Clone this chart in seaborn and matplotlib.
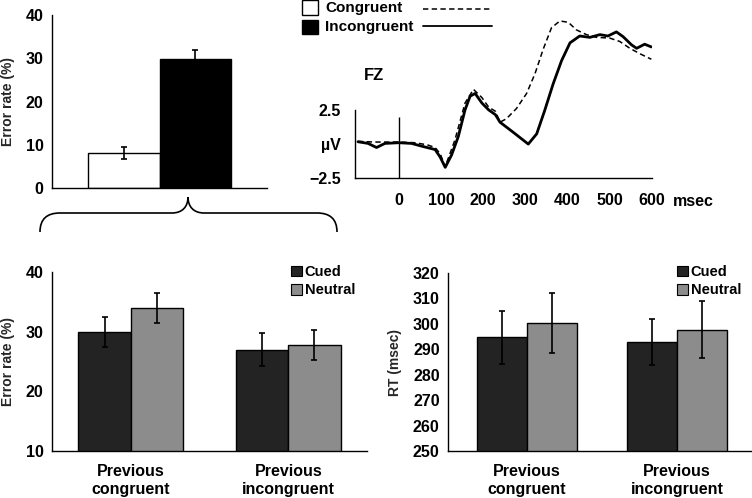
import matplotlib
matplotlib.use("Agg")
import matplotlib.pyplot as plt
import seaborn as sns
import numpy as np
import pandas as pd
from matplotlib.patches import Rectangle, Patch, PathPatch
from matplotlib.lines import Line2D
from matplotlib.path import Path

# ---------------- data ----------------
top_conditions = ["Congruent", "Incongruent"]
top_error_rate = [8.1, 29.8]
top_error_se = [1.3, 2.2]

erp_time_congruent = [-97, -57, 0, 38, 67, 86, 98, 110, 133, 157, 177, 197, 213, 229, 240,
                      255, 279, 303, 323, 342, 362, 382, 402, 421, 445, 469, 500, 524, 548, 572, 599]
erp_volt_congruent = [0.2, 0.15, 0.15, 0.1, -0.05, -0.25, -0.7, -1.65, 0.3, 3.0, 4.0, 3.4, 2.7, 2.4, 1.6,
                      1.85, 2.6, 3.7, 5.15, 6.9, 8.5, 9.0, 8.9, 8.35, 8.0, 7.8, 7.75, 7.5, 7.0, 6.6, 6.2]
erp_time_incongruent = [-97, -73, -53, -33, 0, 30, 54, 86, 98, 110, 125, 141, 157, 169, 181, 197, 213,
                        229, 240, 271, 307, 327, 346, 366, 386, 406, 429, 453, 477, 496, 516, 532,
                        552, 564, 583, 599]
erp_volt_incongruent = [0.17, 0.05, -0.25, 0.05, 0.1, 0.05, -0.15, -0.4, -0.95, -1.7, -0.8, 0.55, 2.5, 3.5,
                        3.7, 3.0, 2.5, 2.15, 1.6, 0.87, 0.0, 0.75, 2.46, 4.4, 6.1, 7.4, 7.9, 7.8, 8.0,
                        7.9, 8.2, 7.85, 7.25, 7.0, 7.3, 7.1]

prev_categories = ["Previous\ncongruent", "Previous\nincongruent"]
cue_levels = ["Cued", "Neutral"]
err_cued = [30.0, 27.0]
err_neutral = [33.9, 27.7]
err_cued_se = [2.5, 2.75]
err_neutral_se = [2.5, 2.5]
rt_cued = [294.7, 292.9]
rt_neutral = [300.4, 297.7]
rt_cued_se = [10.5, 9.2]
rt_neutral_se = [11.8, 11.1]

# ---------------- style ----------------
sns.set_theme(style="white")
plt.rcParams["font.family"] = ["Liberation Sans", "DejaVu Sans"]
plt.rcParams["font.weight"] = "bold"
plt.rcParams["axes.labelweight"] = "bold"
plt.rcParams["axes.edgecolor"] = "black"
plt.rcParams["axes.linewidth"] = 1.0
plt.rcParams["xtick.color"] = "black"
plt.rcParams["ytick.color"] = "black"
plt.rcParams["text.color"] = "black"

W, H = 752, 498
fig = plt.figure(figsize=(W / 100, H / 100), dpi=100)
fig.patch.set_facecolor("white")


def fx(px):
    return px / W


def fy(py):
    return 1 - py / H


def box(x0, y0, x1, y1):
    return [fx(x0), fy(y1), (x1 - x0) / W, (y1 - y0) / H]


CUED = "#232323"
NEUTRAL = "#8c8c8c"
TICK_FS = 11.5

# ---------------- top-left bar chart ----------------
ax1 = fig.add_axes(box(52, 15, 267, 188))
df_top = pd.DataFrame({"cond": top_conditions, "rate": top_error_rate})
sns.barplot(data=df_top, x="cond", y="rate", hue="cond", palette=["white", "black"],
            width=1.0, edgecolor="black", linewidth=1.0, errorbar=None, legend=False, ax=ax1)
ax1.errorbar(x=[0, 1], y=top_error_rate, yerr=top_error_se, fmt="none", ecolor="black",
             elinewidth=1.2, capsize=2.2, capthick=1.2)
ax1.set_xlim(-1, 2)
ax1.set_ylim(0, 40)
ax1.set_yticks([0, 10, 20, 30, 40])
ax1.set_xticks([])
ax1.set_xlabel("")
ax1.set_ylabel("Error rate (%)", fontsize=10, fontweight="bold")
ax1.yaxis.set_label_coords((15 - 52) / 215, 0.5)
for s in ["top", "right"]:
    ax1.spines[s].set_visible(False)
ax1.tick_params(axis="y", direction="out", length=4, width=1, pad=2, labelsize=TICK_FS)

# ---------------- ERP waveform ----------------
ax2 = fig.add_axes(box(355, 10, 651.8, 178.3))
ax2.patch.set_alpha(0)
sns.lineplot(x=erp_time_congruent, y=erp_volt_congruent, ax=ax2, color="black",
             linewidth=1.1, linestyle=(0, (3.5, 2.2)), errorbar=None)
sns.lineplot(x=erp_time_incongruent, y=erp_volt_incongruent, ax=ax2, color="black",
             linewidth=2.0, errorbar=None)
ax2.vlines(0, -2.5, 2.0, color="black", linewidth=1.0)
ax2.set_xlim(-104, 600)
ax2.set_ylim(-2.5, 9.8)
for s in ["top", "right"]:
    ax2.spines[s].set_visible(False)
ax2.spines["left"].set_bounds(-2.5, 2.5)
ax2.set_yticks([-2.5, 0, 2.5])
ax2.set_yticklabels(["\u22122.5", "\u00b5V", "2.5"])
ax2.yaxis.get_major_ticks()[1].tick1line.set_visible(False)
ax2.set_xticks([0, 100, 200, 300, 400, 500, 600])
ax2.set_xticklabels(["0", "100", "200", "300", "400", "500", "600"])
ax2.tick_params(axis="y", direction="out", length=4, width=1, pad=6, labelsize=TICK_FS)
ax2.tick_params(axis="x", direction="inout", length=11, width=1, pad=5, labelsize=TICK_FS)
ax2.set_xlabel("")
ax2.set_ylabel("")
fig.text(fx(673), fy(201), "msec", fontsize=TICK_FS, fontweight="bold", va="center", ha="left")
fig.text(fx(364), fy(76), "FZ", fontsize=12, fontweight="bold", va="center", ha="left")

# ERP legend
fig.add_artist(Rectangle((fx(302), fy(15)), 16 / W, 15 / H, facecolor="white", edgecolor="black",
                         linewidth=1, transform=fig.transFigure))
fig.add_artist(Rectangle((fx(302), fy(34)), 16 / W, 14 / H, facecolor="black", edgecolor="black",
                         linewidth=1, transform=fig.transFigure))
fig.text(fx(325), fy(8), "Congruent", fontsize=11, fontweight="bold", va="center", ha="left")
fig.text(fx(325), fy(27), "Incongruent", fontsize=11, fontweight="bold", va="center", ha="left")
fig.add_artist(Line2D([fx(423), fx(492)], [fy(9.3), fy(9.3)], color="black", linewidth=1.1,
                      linestyle=(0, (3.5, 2.2)), transform=fig.transFigure))
fig.add_artist(Line2D([fx(423), fx(492)], [fy(26.5), fy(26.5)], color="black", linewidth=1.3,
                      transform=fig.transFigure))

# ---------------- brace ----------------
pts = [(40, 232), (40, 219), (47, 213), (60, 213),
       (172, 213),
       (182, 213), (188, 207), (188, 197),
       (188, 207), (194, 213), (204, 213),
       (317, 213),
       (330, 213), (337, 219), (337, 232)]
codes = [Path.MOVETO, Path.CURVE4, Path.CURVE4, Path.CURVE4,
         Path.LINETO,
         Path.CURVE4, Path.CURVE4, Path.CURVE4,
         Path.CURVE4, Path.CURVE4, Path.CURVE4,
         Path.LINETO,
         Path.CURVE4, Path.CURVE4, Path.CURVE4]
brace = Path([(fx(x), fy(y)) for x, y in pts], codes)
fig.add_artist(PathPatch(brace, facecolor="none", edgecolor="black", linewidth=1.2,
                         transform=fig.transFigure))


# ---------------- bottom bar charts ----------------
def grouped(ax, cued, neutral, cued_se, neutral_se, xlim, ylim, yticks, ylabel, label_x, legend_xy):
    df = pd.DataFrame({
        "prev": prev_categories * 2,
        "cue": [cue_levels[0]] * 2 + [cue_levels[1]] * 2,
        "val": list(cued) + list(neutral),
    })
    sns.barplot(data=df, x="prev", y="val", hue="cue", order=prev_categories, hue_order=cue_levels,
                palette={"Cued": CUED, "Neutral": NEUTRAL}, width=0.665, edgecolor="black",
                linewidth=1.0, errorbar=None, legend=False, ax=ax)
    bars = sorted([p for p in ax.patches if p.get_height() > 0], key=lambda p: p.get_x())
    xs = [b.get_x() + b.get_width() / 2 for b in bars]
    vals = [cued[0], neutral[0], cued[1], neutral[1]]
    ses = [cued_se[0], neutral_se[0], cued_se[1], neutral_se[1]]
    ax.errorbar(x=xs, y=vals, yerr=ses, fmt="none", ecolor="black", elinewidth=1.2,
                capsize=2.2, capthick=1.2)
    ax.set_xlim(*xlim)
    ax.set_ylim(*ylim)
    ax.set_yticks(yticks)
    for s in ["top", "right"]:
        ax.spines[s].set_visible(False)
    ax.set_xlabel("")
    ax.set_ylabel(ylabel, fontsize=10, fontweight="bold")
    ax.yaxis.set_label_coords(label_x, 0.5)
    ax.set_xticks([0, 1])
    ax.set_xticklabels(prev_categories, fontsize=11.5, fontweight="bold", linespacing=1.25)
    ax.set_xticks([-0.5, 0.5, 1.5], minor=True)
    ax.tick_params(axis="x", which="major", length=0, pad=9)
    ax.tick_params(axis="x", which="minor", direction="out", length=4, width=1)
    ax.tick_params(axis="y", direction="out", length=4, width=1, pad=2, labelsize=TICK_FS)
    handles = [Patch(facecolor=CUED, edgecolor="black", linewidth=0.8, label="Cued"),
               Patch(facecolor=NEUTRAL, edgecolor="black", linewidth=0.8, label="Neutral")]
    ax.legend(handles=handles, loc="upper left", bbox_to_anchor=(fx(legend_xy[0]), fy(legend_xy[1])),
              bbox_transform=fig.transFigure, frameon=False, handlelength=0.75, handleheight=0.75,
              handletextpad=0.2, borderpad=0, borderaxespad=0, labelspacing=0.3,
              prop={"size": 10.5, "weight": "bold"})


ax3 = fig.add_axes(box(52, 272, 367, 451))
grouped(ax3, err_cued, err_neutral, err_cued_se, err_neutral_se, (-0.5, 1.5), (10, 40),
        [10, 20, 30, 40], "Error rate (%)", (15 - 52) / 315, (291, 265))

ax4 = fig.add_axes(box(448, 273, 752, 451))
grouped(ax4, rt_cued, rt_neutral, rt_cued_se, rt_neutral_se, (-0.527, 1.5), (250, 320),
        list(range(250, 321, 10)), "RT (msec)", (402 - 448) / 304, (677, 265))

fig.savefig("out.png", dpi=100, facecolor="white")
